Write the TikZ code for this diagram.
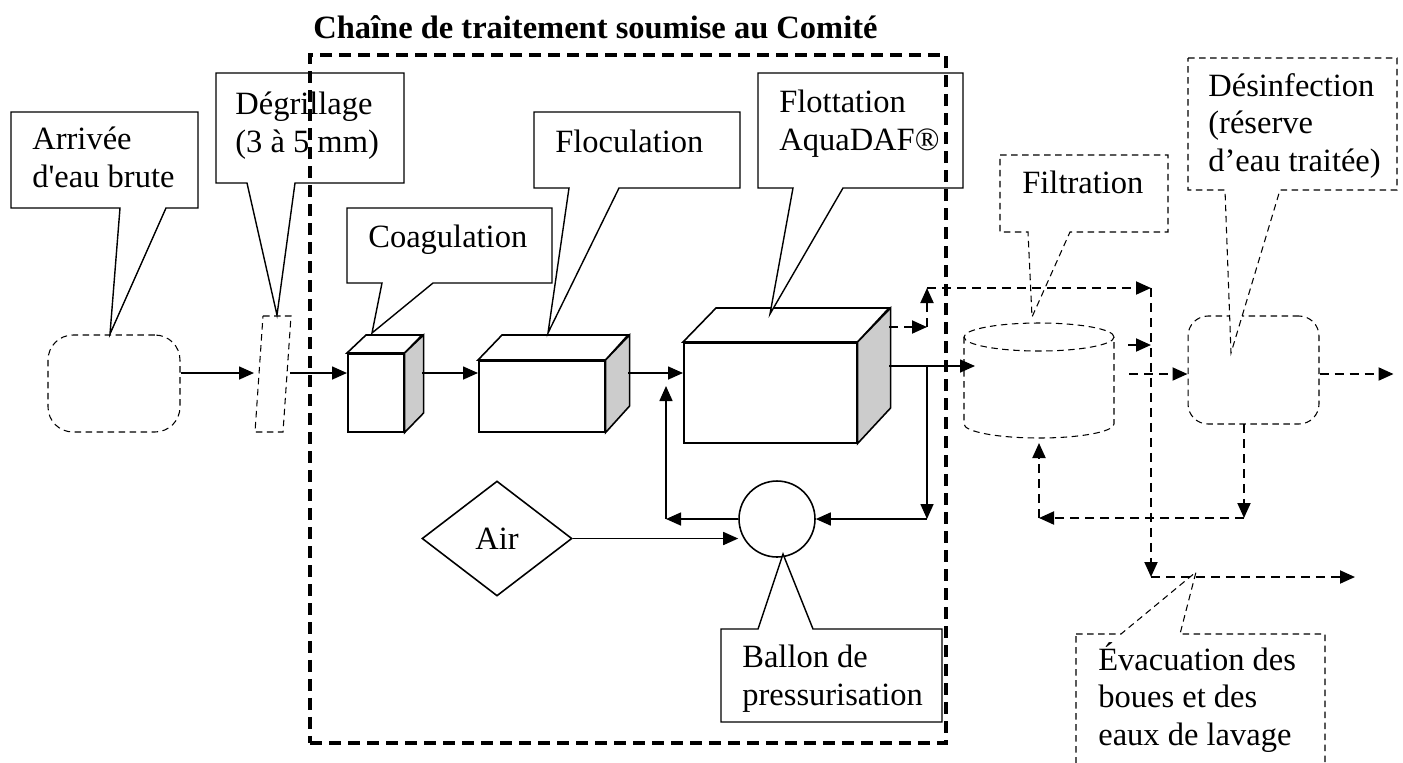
\documentclass[tikz,border=0pt]{standalone}
\usepackage{fontspec}
\setmainfont{Liberation Serif}
\usepackage{tikz}
\usetikzlibrary{shapes.geometric, positioning}
\usetikzlibrary{arrows.meta}
\tikzset{>={Triangle[length=0.3cm,width=0.26cm]}}

\begin{document}
\begin{tikzpicture}[x=0.02cm, y=-0.02cm, font=\fontsize{18.5}{21.3}\selectfont,
  flow/.style={line width=0.9pt, ->},
  dflow/.style={line width=1.1pt, ->, dash pattern=on 0.18cm off 0.12cm},
  dline/.style={line width=0.6pt, dash pattern=on 0.13cm off 0.09cm},
  bubble/.style={draw, fill=white, line width=0.8pt},
  dbubble/.style={bubble, dline},
  face/.style={draw, fill=white, line width=0.9pt, inner sep=0pt},
  side/.style={draw, fill=black!20, line width=0.9pt},
  lbl/.style={anchor=base west, inner sep=0pt, align=left},
  frame/.style={draw, line width=2pt, dash pattern=on 0.24cm off 0.14cm, inner sep=0pt}]

    \useasboundingbox (0,0) rectangle (1403,762);

    %Units
    \node[face, dline, rounded corners=0.5cm, minimum width=2.64cm, minimum height=1.94cm](arrivee) at (114,383.5){};
    \draw[dline, fill=white] (263,316) -- (291,316) -- (283,432) -- (255,432) -- cycle;
    \coordinate (grille in) at (254,373);
    \coordinate (grille out) at (290,373);

    \node[face, anchor=north west, minimum width=1.12cm, minimum height=1.56cm](coag) at (347,353){};
    \draw[face] (coag.north west) -- ++(19,-18) -- ++(56,0) -- (coag.north east) -- cycle;
    \draw[side] (coag.north east) -- ++(19,-18) -- ++(0,78) -- (coag.south east) -- cycle;

    \node[face, anchor=north west, minimum width=2.52cm, minimum height=1.42cm](floc) at (478,360){};
    \draw[face] (floc.north west) -- ++(24,-25) -- ++(126,0) -- (floc.north east) -- cycle;
    \draw[side] (floc.north east) -- ++(24,-25) -- ++(0,71) -- (floc.south east) -- cycle;

    \node[face, anchor=north west, minimum width=3.46cm, minimum height=2cm](flot) at (683,342){};
    \draw[face] (flot.north west) -- ++(33,-34) -- ++(173,0) -- (flot.north east) -- cycle;
    \draw[side] (flot.north east) -- ++(33,-34) -- ++(0,100) -- (flot.south east) -- cycle;

    \node[draw, circle, line width=0.9pt, minimum size=1.52cm, inner sep=0pt](ballon) at (777,519){};
    \node[draw, diamond, line width=0.9pt, minimum width=3cm, minimum height=2.3cm, inner sep=0pt](air) at (497,538.5){Air};

    \draw[dline, fill=white] (1039,337) ellipse [x radius=1.5cm, y radius=0.28cm];
    \draw[dline] (964,337) -- (964,424) arc[start angle=180, end angle=360, x radius=1.5cm, y radius=0.28cm] -- (1114,337);
    \coordinate (filtre in) at (975,366);
    \coordinate (filtre top) at (1128,345);
    \coordinate (filtre mid) at (1129,374);
    \coordinate (filtre bot) at (1039,443);

    \node[draw, dline, rounded corners=0.4cm, minimum width=2.62cm, minimum height=2.16cm](desinf) at (1253.5,370){};
    \coordinate (desinf bot) at (1244,424);

    %Callouts
    \draw[bubble] (11,112) -- (198,112) -- (198,208) -- (166,208) -- (110,334) -- (120,208) -- (11,208) -- cycle;
    \draw[bubble] (216,73) -- (404,73) -- (404,183) -- (295,183) -- (277,315) -- (247,183) -- (216,183) -- cycle;
    \draw[bubble] (347,208) -- (552,208) -- (552,283) -- (433,283) -- (372,333) -- (382,283) -- (347,283) -- cycle;
    \draw[bubble] (534,112) -- (740,112) -- (740,188) -- (619,188) -- (548,333) -- (569,188) -- (534,188) -- cycle;
    \draw[bubble] (758,73) -- (963,73) -- (963,188) -- (843,188) -- (770,314) -- (793,188) -- (758,188) -- cycle;
    \draw[bubble] (721,629) -- (758,629) -- (783,554) -- (813,629) -- (942,629) -- (942,722) -- (721,722) -- cycle;
    \draw[dbubble] (1000,155) -- (1168,155) -- (1168,232) -- (1070,232) -- (1032,317) -- (1028,232) -- (1000,232) -- cycle;
    \draw[dbubble] (1188,58) -- (1397,58) -- (1397,190) -- (1280,190) -- (1231,353) -- (1225,190) -- (1188,190) -- cycle;
    \draw[dbubble] (1076,634) -- (1121,634) -- (1196,572) -- (1180,634) -- (1325,634) -- (1325,800) -- (1076,800) -- cycle;

    %Texts (placed at the baseline of their last line)
    \node[lbl](t_arrivee) at (32,187){Arrivée\\d\textquotesingle eau brute};
    \node[lbl](t_degrillage) at (235,152){Dégrillage\\(3 à 5 mm)};
    \node[lbl](t_coag) at (368,247){Coagulation};
    \node[lbl](t_floc) at (555,152){Floculation};
    \node[lbl](t_flot) at (779,150){Flottation\\AquaDAF®};
    \node[lbl](t_ballon) at (742,705){Ballon de\\pressurisation};
    \node[lbl](t_filtre) at (1022,193){Filtration};
    \node[lbl](t_desinf) at (1208,171){Désinfection\\(réserve\\d’eau traitée)};
    \node[lbl](t_evac) at (1098,745){Évacuation des\\boues et des\\eaux de lavage};

    %Lines
    \draw[flow] (arrivee.east |- grille in) -- (grille in);
    \draw[flow] (grille out) -- (coag.west |- grille out);
    \coordinate (coag out) at (422,373);
    \draw[flow] (coag out) -- (floc.west |- coag out);
    \coordinate (floc out) at (628,373);
    \draw[flow] (floc out) -- (flot.west |- floc out);
    \coordinate (flot out) at (889,366);
    \coordinate (split) at (927,366);
    \coordinate (recycle) at (927,519);
    \coordinate (mix) at (666,519);
    \coordinate (mix top) at (666,386);
    \draw[flow] (flot out) -- (filtre in);
    \draw[flow] (split) -- (recycle);
    \draw[flow] (recycle) -- (ballon.east);
    \draw[flow] (ballon.west) -- (mix);
    \draw[flow] (mix) -- (mix top);
    \draw[flow] (air.east) -- (air.east -| ballon.west);

    \coordinate (flot sludge) at (889,327);
    \coordinate (k1) at (927,327);
    \coordinate (k2) at (927,288);
    \coordinate (k3) at (1151,288);
    \coordinate (k4) at (1151,577);
    \coordinate (evac end) at (1355,577);
    \coordinate (w1) at (1244,518);
    \coordinate (w2) at (1039,518);
    \draw[dflow] (flot sludge) -- (k1);
    \draw[dflow] (k1) -- (k2);
    \draw[dflow] (k2) -- (k3);
    \draw[dflow] (k3) -- (k4);
    \draw[dflow] (k4) -- (evac end);
    \draw[dflow] (filtre top) -- (k3 |- filtre top);
    \draw[dflow] (filtre mid) -- (desinf.west |- filtre mid);
    \draw[dflow] (desinf.east |- filtre mid) -- ++(74,0);
    \draw[dflow] (desinf bot) -- (w1);
    \draw[dflow] (w1) -- (w2);
    \draw[dflow] (w2) -- (filtre bot);

    %Frame
    \node[frame, minimum width=12.72cm, minimum height=13.76cm](chaine) at (628,399){};
    \node[lbl, font=\fontsize{18.5}{21.3}\selectfont\bfseries](title) at (313,38){Chaîne de traitement soumise au Comité};

\end{tikzpicture}
\end{document}
